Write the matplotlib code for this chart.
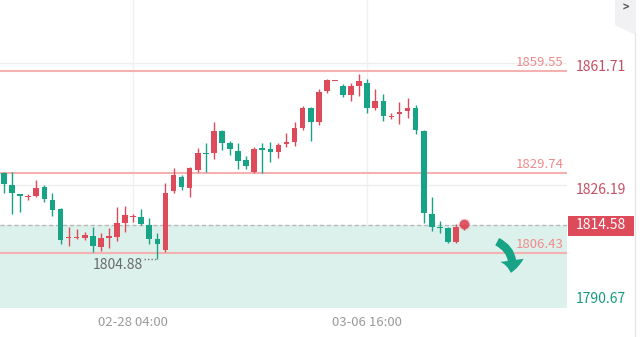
import numpy as np
import matplotlib.pyplot as plt
from matplotlib.patches import FancyArrowPatch, Polygon, Rectangle
from matplotlib.lines import Line2D

plt.rcParams['font.family'] = ['Noto Sans CJK SC', 'DejaVu Sans']

# candle data
opens = [1829.8, 1826.3, 1823.7, 1822.7, 1823.1, 1825.7, 1822.0, 1819.3, 1810.8, 1810.9,
         1810.8, 1811.5, 1808.3, 1811.0, 1811.2, 1815.3, 1816.9, 1817.0, 1814.7, 1810.6,
         1807.4, 1824.6, 1828.7, 1825.5, 1830.7, 1835.6, 1835.6, 1842.0, 1838.5, 1836.2,
         1833.6, 1830.1, 1837.1, 1836.8, 1835.9, 1838.3, 1838.8, 1842.9, 1848.7, 1844.6,
         1853.6, 1856.5, 1855.1, 1852.5, 1855.1, 1856.0, 1848.7, 1850.7, 1846.0, 1847.0,
         1847.8, 1848.7, 1842.0, 1817.9, 1814.0, 1813.8, 1809.8, 1814.1]
highs = [1830.1, 1830.1, 1823.8, 1823.7, 1827.8, 1826.3, 1824.0, 1819.6, 1814.1, 1813.5,
         1812.7, 1814.1, 1812.4, 1813.8, 1819.9, 1820.2, 1817.9, 1819.3, 1816.7, 1812.4,
         1826.9, 1831.3, 1829.2, 1831.6, 1837.1, 1838.5, 1844.6, 1842.3, 1839.1, 1838.5,
         1834.8, 1837.4, 1838.5, 1838.8, 1838.5, 1841.4, 1844.6, 1849.3, 1848.9, 1854.2,
         1857.1, 1856.6, 1855.7, 1856.0, 1858.6, 1857.1, 1854.2, 1852.8, 1847.3, 1850.5,
         1851.6, 1849.6, 1842.2, 1822.8, 1815.9, 1814.1, 1815.0, 1815.3]
lows = [1824.0, 1817.9, 1818.5, 1822.0, 1822.8, 1821.4, 1817.3, 1809.2, 1808.6, 1810.6,
        1810.3, 1806.8, 1807.0, 1808.0, 1810.0, 1812.7, 1815.6, 1814.7, 1809.2, 1804.88,
        1806.8, 1824.0, 1824.9, 1822.8, 1830.1, 1830.1, 1833.9, 1836.5, 1835.0, 1831.0,
        1831.0, 1829.8, 1829.8, 1833.0, 1834.2, 1837.4, 1837.7, 1842.3, 1839.1, 1843.8,
        1853.1, 1856.5, 1851.9, 1850.7, 1852.2, 1847.3, 1848.1, 1844.9, 1845.5, 1844.1,
        1845.8, 1841.2, 1815.3, 1813.0, 1812.4, 1809.5, 1809.5, 1813.2]
closes = [1826.6, 1824.0, 1823.1, 1822.9, 1825.5, 1822.3, 1819.1, 1810.3, 1811.0, 1811.2,
          1811.8, 1808.6, 1810.9, 1811.3, 1815.3, 1817.6, 1817.1, 1815.0, 1810.6, 1809.2,
          1824.0, 1829.2, 1825.8, 1831.3, 1835.6, 1835.3, 1842.0, 1838.5, 1836.8, 1833.3,
          1831.8, 1836.8, 1836.5, 1835.9, 1837.9, 1838.8, 1842.9, 1848.7, 1844.6, 1853.4,
          1856.8, 1856.6, 1852.5, 1855.1, 1856.5, 1848.7, 1850.7, 1846.4, 1846.2, 1847.5,
          1848.7, 1842.3, 1818.2, 1814.1, 1813.7, 1809.8, 1814.1, 1814.58]

tick_pos = [16, 45]
tick_labels = ['02-28 04:00', '03-06 16:00']

levels = [1859.55, 1829.74, 1806.43]
axis_marks = [1861.71, 1826.19]
last_price = 1814.58
bottom_price = 1790.67
low_price = 1804.88
low_idx = 19

RED = '#dd4b5b'
GREEN = '#17a386'

fig = plt.figure(figsize=(6.4, 3.37), dpi=100)
ax = fig.add_axes([0, 0.0872, 567 / 640, 0.9128])
ax.set_xlim(-0.5, 69.76)
ax.set_ylim(bottom_price, 1880.1)
for s in ax.spines.values():
    s.set_visible(False)
ax.set_yticks([])
ax.set_xticks(tick_pos)
ax.set_xticklabels(tick_labels, color='#9a9a9a', fontsize=9.5)
ax.tick_params(axis='x', length=0, pad=6)

# grid
for p in axis_marks:
    ax.axhline(p, color='#eeeeee', lw=1, zorder=0)
for t in tick_pos:
    ax.axvline(t, color='#eef0f2', lw=1, zorder=0)

# shaded zone below the last price
ax.axhspan(bottom_price, last_price, color='#dcf1ec', zorder=0.5, lw=0)
ax.axhline(last_price, color='#b8b8b8', lw=1, ls=(0, (3, 2)), zorder=1)

# resistance / support lines
for lv in levels:
    ax.axhline(lv, color='#f5b0b0', lw=1.5, zorder=1)
    ax.text(69.3, lv + 0.6, '%.2f' % lv, color='#f08a8a', fontsize=9.5,
            ha='right', va='bottom', zorder=3)

# candles
o = np.array(opens)
h = np.array(highs)
l = np.array(lows)
c = np.array(closes)
x = np.arange(len(o))
cols = [RED if cc >= oo else GREEN for oo, cc in zip(o, c)]
ax.vlines(x, l, h, colors=cols, lw=1, zorder=2)
body = np.maximum(np.abs(c - o), 0.35)
ax.bar(x, body, bottom=np.minimum(o, c), width=0.7, color=cols, zorder=2.5, lw=0)

# last price dot
ax.plot(x[-1], h[-1] - 0.3, 'o', color=RED, ms=6, zorder=3, alpha=0.9)
ax.plot(x[-1], h[-1] - 0.3, 'o', color=RED, ms=9, zorder=2.8, alpha=0.15, mec='none')

# low marker
ax.plot([17.3, low_idx - 0.1], [low_price, low_price], color='#777777', lw=1, ls=(0, (1, 1.5)), zorder=3)
ax.text(17.2, low_price - 1.8, '%.2f' % low_price, color='#6b6b6b', fontsize=10,
        ha='right', va='center', zorder=3)

# down arrow
arr = FancyArrowPatch((60.8, 1810.2), (62.7, 1800.0),
                      connectionstyle='arc3,rad=-0.45',
                      arrowstyle='simple,head_width=17,head_length=9,tail_width=6',
                      color=GREEN, lw=0, zorder=4)
ax.add_patch(arr)

# right side labels
lab_x = 1.016
for p, dy in zip(axis_marks, [-1.0, -1.2]):
    ax.text(lab_x, p + dy, '%.2f' % p, transform=ax.get_yaxis_transform(),
            color='#c64e62', fontsize=10, ha='left', va='center', clip_on=False)
ax.text(lab_x, bottom_price + 2.6, '%.2f' % bottom_price, transform=ax.get_yaxis_transform(),
        color='#179a80', fontsize=10, ha='left', va='center', clip_on=False)
ax.add_patch(Rectangle((568 / 640, (337 - 236) / 337), 66 / 640, 20 / 337,
                       transform=fig.transFigure, color=RED, lw=0, clip_on=False, zorder=4))
ax.text(lab_x, last_price, '%.2f' % last_price, transform=ax.get_yaxis_transform(),
        color='white', fontsize=10, ha='left', va='center', clip_on=False, zorder=5)

# right border and tab
fig.lines.append(Line2D([635 / 640, 635 / 640], [0, (337 - 33) / 337],
                        transform=fig.transFigure, color='#e6e6e9', lw=1))
fig.patches.append(Polygon([(615 / 640, 1), (636 / 640, 1), (636 / 640, (337 - 35) / 337),
                            (615 / 640, (337 - 25) / 337)],
                           closed=True, transform=fig.transFigure, color='#f1f1f4', lw=0))
fig.text(626 / 640, (337 - 8) / 337, '>', color='#555555', fontsize=8,
         ha='center', va='center', fontweight='bold')

fig.savefig('out.png', dpi=100)
